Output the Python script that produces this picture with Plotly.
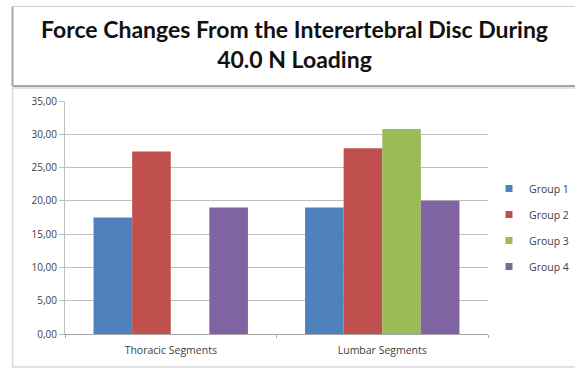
import plotly.graph_objects as go

categories = ["Thoracic Segments", "Lumbar Segments"]
groups = ["Group 1", "Group 2", "Group 3", "Group 4"]
values = {
    "Group 1": [17.5, 19.0],
    "Group 2": [27.4, 27.9],
    "Group 3": [0.0, 30.8],
    "Group 4": [19.0, 20.0],
}
colors = {
    "Group 1": "#4f81bd",
    "Group 2": "#c0504d",
    "Group 3": "#9bbb59",
    "Group 4": "#8064a2",
}
y_ticks = [0, 5, 10, 15, 20, 25, 30, 35]
y_tick_text = ["0,00", "5,00", "10,00", "15,00", "20,00", "25,00", "30,00", "35,00"]

W, H = 575, 369
L, R, T, B = 65, 87, 101, 35

fig = go.Figure()
for g in groups:
    fig.add_trace(go.Bar(
        x=categories, y=values[g], name=g, showlegend=False,
        marker=dict(color=colors[g], line=dict(width=0)),
    ))
# small square legend keys
for g in groups:
    fig.add_trace(go.Scatter(
        x=[categories[0]], y=[None], name=g, mode="markers", legendgroup=g,
        marker=dict(symbol="square", size=7, color=colors[g]),
    ))

pw, ph = W - L - R, H - T - B


def px(x):
    return (x - L) / pw


def py(y):
    return (H - B - y) / ph


shapes = [
    # chart area frame
    dict(type="rect", xref="paper", yref="paper",
         x0=px(12.5), x1=px(580), y0=py(367), y1=py(88),
         line=dict(color="#d9d9d9", width=1.5), fillcolor="rgba(0,0,0,0)", layer="below"),
    # title box
    dict(type="rect", xref="paper", yref="paper",
         x0=px(12.5), x1=px(580), y0=py(86), y1=py(6.5),
         line=dict(color="#d0d0d0", width=1), fillcolor="white", layer="below"),
    dict(type="line", xref="paper", yref="paper",
         x0=px(12.5), x1=px(580), y0=py(86), y1=py(86),
         line=dict(color="#a6a6a6", width=2)),
    dict(type="line", xref="paper", yref="paper",
         x0=px(12.5), x1=px(12.5), y0=py(86), y1=py(6.5),
         line=dict(color="#a6a6a6", width=2)),
]

fig.update_layout(
    width=W, height=H,
    margin=dict(l=L, r=R, t=T, b=B, autoexpand=False),
    paper_bgcolor="white", plot_bgcolor="white",
    barmode="group", bargap=0.27, bargroupgap=0,
    font=dict(family="Open Sans, Lato, sans-serif", color="#404040"),
    shapes=shapes,
    annotations=[dict(
        text="<b>Force Changes From the Interertebral Disc During<br>40.0 N Loading</b>",
        xref="paper", yref="paper", x=px(294), y=py(43.5),
        xanchor="center", yanchor="middle", showarrow=False,
        font=dict(family="Lato, Open Sans, sans-serif", size=23, color="#111111"),
    )],
    showlegend=True,
    legend=dict(
        xref="container", yref="container",
        x=489 / W, y=1 - 174 / H, xanchor="left", yanchor="top",
        font=dict(size=10.5, color="#404040"),
        itemwidth=30, tracegroupgap=7, bgcolor="rgba(0,0,0,0)",
    ),
    xaxis=dict(
        showgrid=False, showline=True, linecolor="#a6a6a6", linewidth=1,
        ticks="outside", tickson="boundaries", ticklen=3, tickcolor="#a6a6a6",
        ticklabelstandoff=6,
        tickfont=dict(size=10.5, color="#404040"),
    ),
    yaxis=dict(
        range=[0, 35], tickvals=y_ticks, ticktext=y_tick_text,
        showgrid=True, gridcolor="#bfbfbf", gridwidth=1,
        showline=True, linecolor="#bfbfbf", linewidth=1,
        ticks="outside", ticklen=5, tickcolor="#bfbfbf",
        tickfont=dict(size=10, color="#404040"), zeroline=False,
    ),
)

fig.write_html("out.html")
